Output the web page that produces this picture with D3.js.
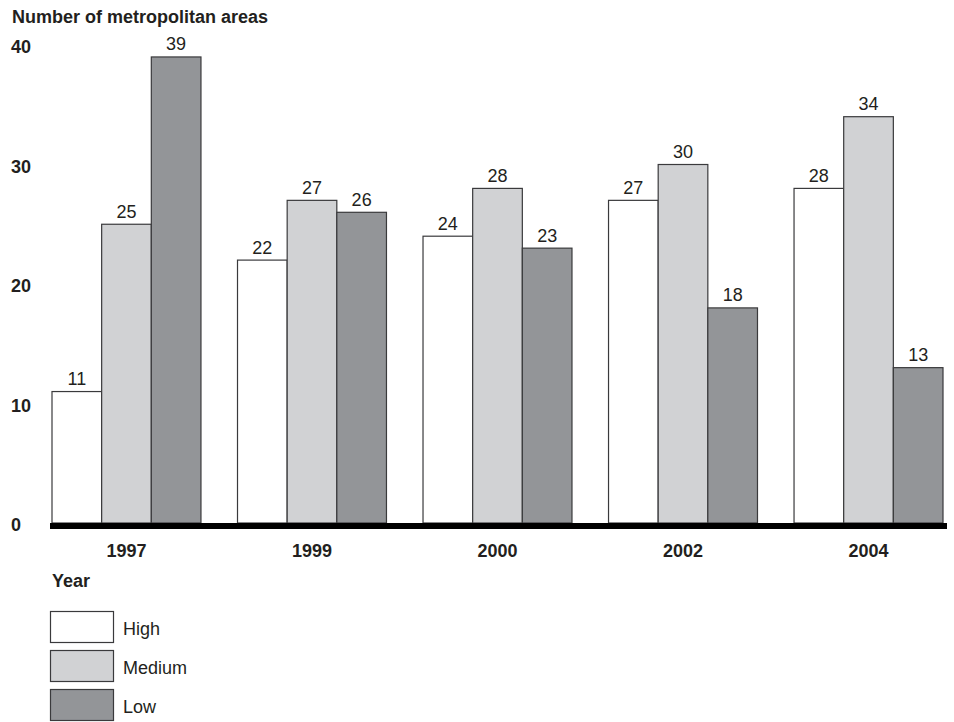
<!DOCTYPE html>
<html>
<head>
<meta charset="utf-8">
<script src="https://cdn.jsdelivr.net/npm/d3@7"></script>
<style>
  body { margin: 0; background: #fff; }
  svg { font-family: "Liberation Sans", Arial, Helvetica, sans-serif; }
</style>
</head>
<body>
<svg id="chart"></svg>
<script>
// DATA
const years = ["1997", "1999", "2000", "2002", "2004"];
const levels = ["High", "Medium", "Low"];
const high = [11, 22, 24, 27, 28];
const medium = [25, 27, 28, 30, 34];
const low = [39, 26, 23, 18, 13];
const yTicks = [0, 10, 20, 30, 40];

const width = 954, height = 722;
const colors = { High: "#ffffff", Medium: "#d1d2d4", Low: "#939598" };
const fs = 18;

const svg = d3.select("#chart")
  .attr("width", width)
  .attr("height", height);

// + SCALES
const xScale = d3.scaleBand()
  .domain(years)
  .range([52, 943])
  .paddingInner(0.197)
  .paddingOuter(0);

const subScale = d3.scaleBand()
  .domain(levels)
  .range([0, xScale.bandwidth()]);

const yScale = d3.scaleLinear()
  .domain([0, 40])
  .range([523, 45]);

const rows = years.map((y, i) => ({
  year: y,
  vals: [
    { key: "High", v: high[i] },
    { key: "Medium", v: medium[i] },
    { key: "Low", v: low[i] }
  ]
}));

// title
svg.append("text")
  .attr("x", 12)
  .attr("y", 23)
  .attr("font-size", fs)
  .attr("font-weight", "bold")
  .attr("fill", "#231f20")
  .text("Number of metropolitan areas");

// y tick labels
svg.selectAll(".ytick")
  .data(yTicks)
  .join("text")
  .attr("class", "ytick")
  .attr("x", 11)
  .attr("y", d => yScale(d) + 8)
  .attr("font-size", fs)
  .attr("font-weight", "bold")
  .attr("fill", "#231f20")
  .text(d => d);

// bars
const groups = svg.selectAll(".grp")
  .data(rows)
  .join("g")
  .attr("class", "grp")
  .attr("transform", d => `translate(${xScale(d.year)},0)`);

groups.selectAll("rect")
  .data(d => d.vals)
  .join("rect")
  .attr("x", d => subScale(d.key))
  .attr("y", d => yScale(d.v))
  .attr("width", subScale.bandwidth())
  .attr("height", d => yScale(0) - yScale(d.v))
  .attr("fill", d => colors[d.key])
  .attr("stroke", "#3a3a3c")
  .attr("stroke-width", 1.2);

groups.selectAll(".val")
  .data(d => d.vals)
  .join("text")
  .attr("class", "val")
  .attr("x", d => subScale(d.key) + subScale.bandwidth() / 2)
  .attr("y", d => yScale(d.v) - 6.5)
  .attr("text-anchor", "middle")
  .attr("font-size", fs)
  .attr("fill", "#231f20")
  .text(d => d.v);

// baseline
svg.append("line")
  .attr("x1", 50)
  .attr("x2", 947)
  .attr("y1", yScale(0) + 3)
  .attr("y2", yScale(0) + 3)
  .attr("stroke", "#000")
  .attr("stroke-width", 6);

// year labels
svg.selectAll(".xlab")
  .data(years)
  .join("text")
  .attr("class", "xlab")
  .attr("x", d => xScale(d) + xScale.bandwidth() / 2)
  .attr("y", 557)
  .attr("text-anchor", "middle")
  .attr("font-size", fs)
  .attr("font-weight", "bold")
  .attr("fill", "#231f20")
  .text(d => d);

svg.append("text")
  .attr("x", 52)
  .attr("y", 587)
  .attr("font-size", fs)
  .attr("font-weight", "bold")
  .attr("fill", "#231f20")
  .text("Year");

// legend
const legend = svg.selectAll(".leg")
  .data(levels)
  .join("g")
  .attr("class", "leg")
  .attr("transform", (d, i) => `translate(50.5,${611.5 + i * 39})`);

legend.append("rect")
  .attr("width", 63)
  .attr("height", 31)
  .attr("fill", d => colors[d])
  .attr("stroke", "#3a3a3c")
  .attr("stroke-width", 1.2);

legend.append("text")
  .attr("x", 72.5)
  .attr("y", 23)
  .attr("font-size", fs)
  .attr("fill", "#231f20")
  .text(d => d);
</script>
</body>
</html>
